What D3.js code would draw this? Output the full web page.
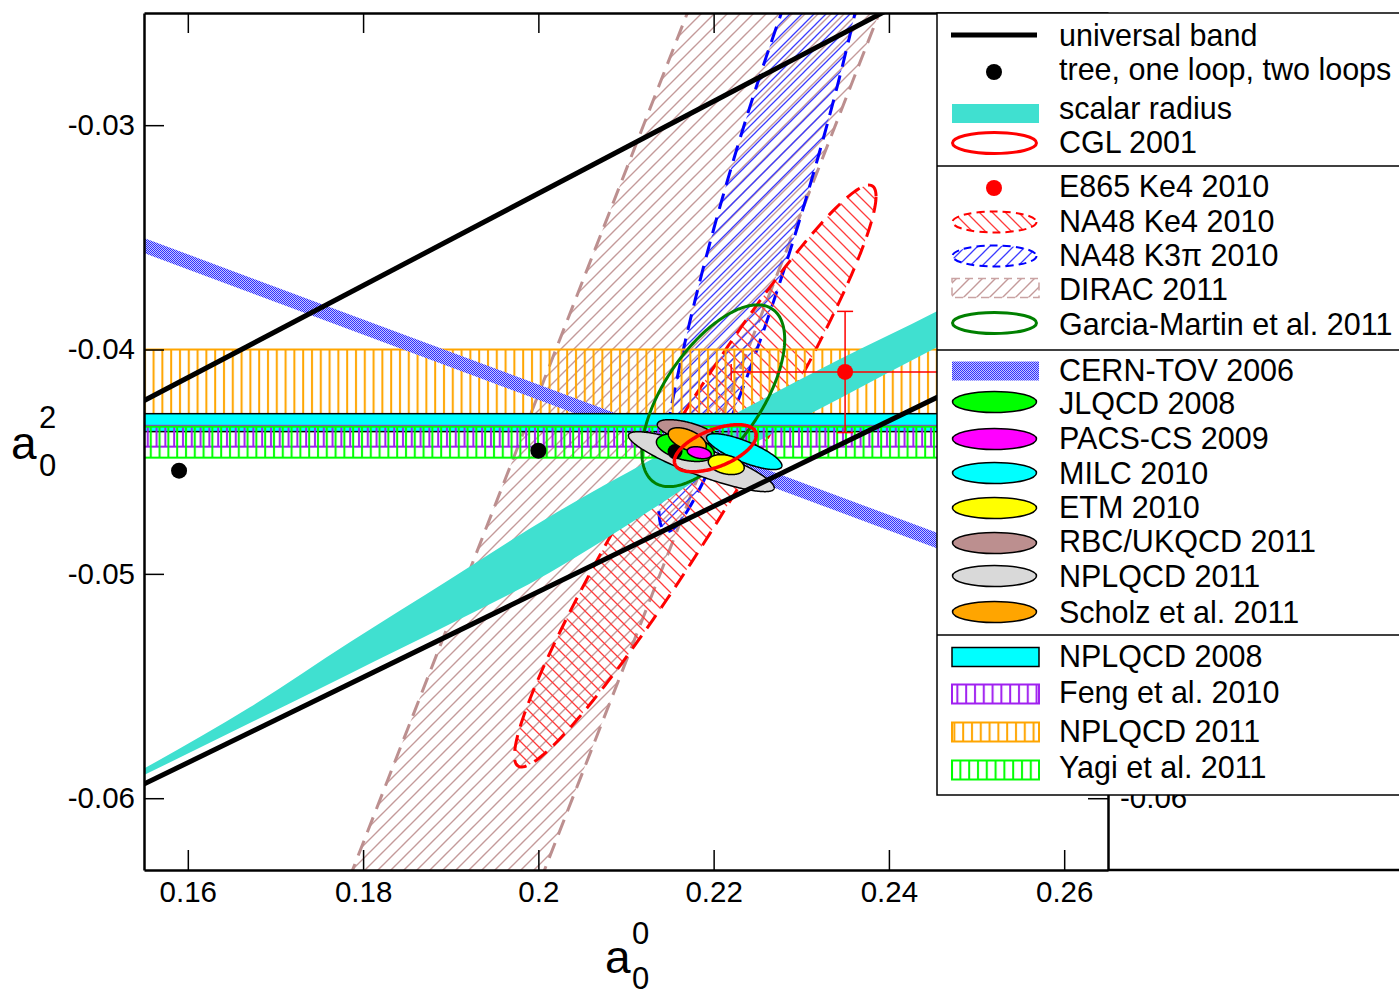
<!DOCTYPE html>
<html><head><meta charset="utf-8">
<script src="https://cdn.jsdelivr.net/npm/d3@7"></script>
<style>body{margin:0;background:#fff}text{font-family:"Liberation Sans",Arial,Helvetica,sans-serif;fill:#000}</style>
</head><body><svg id="c" width="1399" height="992" xmlns="http://www.w3.org/2000/svg"></svg>
<script>
// ---------------- data ----------------
const xTicks = [0.16, 0.18, 0.2, 0.22, 0.24, 0.26];
const yTicks = [-0.03, -0.04, -0.05, -0.06];
const xDomain = [0.155, 0.265];
const yDomain = [-0.0632, -0.025];

const universalUpperX = [0.155, 0.2392], universalUpperY = [-0.04228, -0.025];
const universalLowerX = [0.155, 0.2454], universalLowerY = [-0.05937, -0.04215];

const chptA00 = [0.159, 0.200, 0.2156];      // tree, one loop, two loops
const chptA02 = [-0.0454, -0.04451, -0.04455];

const scalarX     = [0.155, 0.16708, 0.17848, 0.18987, 0.20127, 0.21266, 0.22326, 0.23432, 0.24537, 0.265];
const scalarUpper = [-0.05868, -0.05595, -0.05305, -0.05025, -0.04745, -0.04495, -0.04270, -0.04045, -0.03832, -0.0340];
const scalarLower = [-0.05897, -0.05665, -0.05445, -0.05225, -0.04995, -0.04720, -0.04450, -0.04219, -0.03992, -0.0360];

const cernX = [0.155, 0.265];
const cernUpper = [-0.03503, -0.05100];
const cernLower = [-0.03570, -0.05170];

const diracRange = [0.2420, 0.2639];   // a00 - a02

const e865 = [0.2350, -0.0410], e865Err = [0.013, 0.0027];

const bandNames = ["NPLQCD 2011", "NPLQCD 2008", "Feng et al. 2010", "Yagi et al. 2011"];
const bandLow  = [-0.0430, -0.04366, -0.04433, -0.04482];
const bandHigh = [-0.0400, -0.04286, -0.04340, -0.04344];

// ellipses: centre (a00,a02), half-extents, correlation
const expEllName = ["NA48 K3π 2010", "NA48 Ke4 2010", "Garcia-Martin et al. 2011"];
const expEllA00 = [0.22634, 0.2179, 0.21996];
const expEllA02 = [-0.0325, -0.04564, -0.04206];
const expEllSx  = [0.01260, 0.02063, 0.00815];
const expEllSy  = [0.01562, 0.01297, 0.00405];
const expEllRho = [0.925, 0.961, 0.62];

const latName = ["NPLQCD 2011", "RBC/UKQCD 2011", "JLQCD 2008", "Scholz et al. 2011", "MILC 2010", "PACS-CS 2009", "ETM 2010"];
const latA00 = [0.21859, 0.21699, 0.21677, 0.21699, 0.22349, 0.21836, 0.22144];
const latA02 = [-0.04500, -0.04366, -0.04437, -0.04402, -0.04455, -0.04460, -0.04513];
const latSx  = [0.00832, 0.00342, 0.00330, 0.00217, 0.00430, 0.00137, 0.00205];
const latSy  = [0.001335, 0.000534, 0.00062, 0.000534, 0.00080, 0.000267, 0.000445];
const latRho = [-0.87, -0.6, -0.4, -0.5, -0.78, -0.3, -0.3];
const latColor = ["#d9d9d9", "#bc8f8f", "#00ff00", "#ffa500", "#00ffff", "#ff00ff", "#ffff00"];

const cgl = {a00: 0.22019, a02: -0.04440, sx: 0.00467, sy: 0.00105, rho: 0.55};

const legendLabels = ["universal band", "tree, one loop, two loops", "scalar radius", "CGL 2001",
  "E865 Ke4 2010", "NA48 Ke4 2010", "NA48 K3π 2010", "DIRAC 2011", "Garcia-Martin et al. 2011",
  "CERN-TOV 2006", "JLQCD 2008", "PACS-CS 2009", "MILC 2010", "ETM 2010", "RBC/UKQCD 2011", "NPLQCD 2011", "Scholz et al. 2011",
  "NPLQCD 2008", "Feng et al. 2010", "NPLQCD 2011", "Yagi et al. 2011"];

// ---------------- drawing ----------------
const svg = d3.select("#c");
const L = 144, R = 1108, T = 13, B = 870;
const x = d3.scaleLinear().domain(xDomain).range([L, R]);
const y = d3.scaleLinear().domain(yDomain).range([B, T]);

const defs = svg.append("defs");
function hatch(id, color, size, dir, w) {
  const p = defs.append("pattern").attr("id", id).attr("patternUnits", "userSpaceOnUse")
    .attr("width", size).attr("height", size);
  const s = size;
  const d = dir > 0 ? `M-1,1 L1,-1 M0,${s} L${s},0 M${s-1},${s+1} L${s+1},${s-1}`
                    : `M-1,${s-1} L1,${s+1} M0,0 L${s},${s} M${s-1},-1 L${s+1},1`;
  p.append("path").attr("d", d).attr("stroke", color).attr("stroke-width", w).attr("fill", "none");
}
hatch("hBrown", "#c49a9a", 13, 1, 1.4);
hatch("hBlue", "#3b3bff", 12, 1, 1.3);
hatch("hRed", "#ff3b3b", 13, -1, 1.3);
function vhatch(id, color, w, off) {
  const p = defs.append("pattern").attr("id", id).attr("patternUnits", "userSpaceOnUse")
    .attr("width", 8.8).attr("height", 10).attr("x", off);
  p.append("line").attr("x1", 4).attr("x2", 4).attr("y1", 0).attr("y2", 10)
    .attr("stroke", color).attr("stroke-width", w);
}
vhatch("vOrange", "#ffa500", 2, 0);
vhatch("vPurple", "#a020f0", 2, 3);
vhatch("vGreen", "#00ff00", 2, 6);
const ck = defs.append("pattern").attr("id", "checker").attr("patternUnits", "userSpaceOnUse").attr("width", 2).attr("height", 2);
ck.append("rect").attr("width", 2).attr("height", 2).attr("fill", "#c4c4ff");
ck.append("rect").attr("width", 1).attr("height", 1).attr("fill", "#3030ff");
ck.append("rect").attr("x", 1).attr("y", 1).attr("width", 1).attr("height", 1).attr("fill", "#3030ff");

defs.append("clipPath").attr("id", "plotClip").append("rect")
  .attr("x", L).attr("y", T).attr("width", R - L).attr("height", B - T);

const line = d3.line().x(d => x(d[0])).y(d => y(d[1]));
function ellipsePts(cx, cy, sx, sy, rho) {
  const pts = [], q = Math.sqrt(1 - rho * rho);
  for (let i = 0; i < 240; i++) {
    const t = i / 240 * 2 * Math.PI;
    pts.push([cx + sx * Math.cos(t), cy + sy * (rho * Math.cos(t) + q * Math.sin(t))]);
  }
  return pts;
}
const closed = d3.line().x(d => x(d[0])).y(d => y(d[1])).curve(d3.curveLinearClosed);

const g = svg.append("g").attr("clip-path", "url(#plotClip)");

// DIRAC band
{
  const xs = [0.14, 0.30];
  const poly = [[xs[0], xs[0] - diracRange[0]], [xs[1], xs[1] - diracRange[0]], [xs[1], xs[1] - diracRange[1]], [xs[0], xs[0] - diracRange[1]]];
  g.append("path").attr("d", closed(poly)).attr("fill", "url(#hBrown)");
  diracRange.forEach(c => g.append("path").attr("d", line(xs.map(v => [v, v - c])))
    .attr("stroke", "#bc8f8f").attr("stroke-width", 3).attr("stroke-dasharray", "16,9").attr("fill", "none"));
}
// NA48 ellipses
const expStyle = [{fill: "url(#hBlue)", stroke: "#0000ff", dash: "16,9"}, {fill: "url(#hRed)", stroke: "#ff0000", dash: "16,9"}];
[0, 1].forEach(i => {
  g.append("path").attr("d", closed(ellipsePts(expEllA00[i], expEllA02[i], expEllSx[i], expEllSy[i], expEllRho[i])))
    .attr("fill", expStyle[i].fill).attr("stroke", expStyle[i].stroke).attr("stroke-width", 3)
    .attr("stroke-dasharray", expStyle[i].dash);
});
// NPLQCD 2011 band
function band(i, fill, stroke, sw) {
  g.append("rect").attr("x", x(xDomain[0]) - 5).attr("width", R - L + 10)
    .attr("y", y(bandHigh[i])).attr("height", y(bandLow[i]) - y(bandHigh[i]))
    .attr("fill", fill).attr("stroke", stroke).attr("stroke-width", sw);
}
band(0, "url(#vOrange)", "#ffa500", 2);
// scalar radius
{
  const area = d3.area().x((d, i) => x(scalarX[i])).y0((d, i) => y(scalarLower[i])).y1((d, i) => y(scalarUpper[i])).curve(d3.curveMonotoneX);
  g.append("path").attr("d", area(scalarX)).attr("fill", "#40e0d0");
}
// CERN-TOV
{
  const area = d3.area().x((d, i) => x(cernX[i])).y0((d, i) => y(cernLower[i])).y1((d, i) => y(cernUpper[i]));
  g.append("path").attr("d", area(cernX)).attr("fill", "url(#checker)");
}
band(1, "#00ffff", "#000", 1.5);
band(2, "url(#vPurple)", "#a020f0", 2);
band(3, "url(#vGreen)", "#00ff00", 2);
// Garcia-Martin
g.append("path").attr("d", closed(ellipsePts(expEllA00[2], expEllA02[2], expEllSx[2], expEllSy[2], expEllRho[2])))
  .attr("fill", "none").attr("stroke", "#008000").attr("stroke-width", 3);
// E865
{
  const ge = g.append("g").attr("stroke", "#ff0000").attr("stroke-width", 1.5);
  ge.append("line").attr("x1", x(e865[0] - e865Err[0])).attr("x2", x(e865[0] + e865Err[0])).attr("y1", y(e865[1])).attr("y2", y(e865[1]));
  ge.append("line").attr("y1", y(e865[1] - e865Err[1])).attr("y2", y(e865[1] + e865Err[1])).attr("x1", x(e865[0])).attr("x2", x(e865[0]));
  [-1, 1].forEach(s => {
    ge.append("line").attr("x1", x(e865[0]) - 8).attr("x2", x(e865[0]) + 8).attr("y1", y(e865[1] + s * e865Err[1])).attr("y2", y(e865[1] + s * e865Err[1]));
    ge.append("line").attr("y1", y(e865[1]) - 8).attr("y2", y(e865[1]) + 8).attr("x1", x(e865[0] + s * e865Err[0])).attr("x2", x(e865[0] + s * e865Err[0]));
  });
  g.append("circle").attr("cx", x(e865[0])).attr("cy", y(e865[1])).attr("r", 8).attr("fill", "#ff0000");
}
// lattice ellipses (two-loop dot sits among them)
latName.forEach((n, i) => {
  g.append("path").attr("d", closed(ellipsePts(latA00[i], latA02[i], latSx[i], latSy[i], latRho[i])))
    .attr("fill", latColor[i]).attr("stroke", "#000").attr("stroke-width", 1.5);
  if (i === 2) g.append("circle").attr("cx", x(chptA00[2])).attr("cy", y(chptA02[2])).attr("r", 7.5).attr("fill", "#000");
});
// universal band lines
[[universalUpperX, universalUpperY], [universalLowerX, universalLowerY]].forEach(([xs, ys]) => {
  const sl = (ys[1] - ys[0]) / (xs[1] - xs[0]);
  const pts = [[0.15, ys[0] + sl * (0.15 - xs[0])], [0.27, ys[0] + sl * (0.27 - xs[0])]];
  g.append("path").attr("d", line(pts)).attr("stroke", "#000").attr("stroke-width", 5).attr("fill", "none");
});
// CGL
g.append("path").attr("d", closed(ellipsePts(cgl.a00, cgl.a02, cgl.sx, cgl.sy, cgl.rho)))
  .attr("fill", "none").attr("stroke", "#ff0000").attr("stroke-width", 3.5);
// tree / one loop
[0, 1].forEach(i => g.append("circle").attr("cx", x(chptA00[i])).attr("cy", y(chptA02[i])).attr("r", 8).attr("fill", "#000"));

// ---------------- axes ----------------
const fmt = d => String(+d.toFixed(3));
const fs = 29.5;
const ax = [
  svg.append("g").attr("transform", `translate(0,${B})`).call(d3.axisBottom(x).tickValues(xTicks).tickFormat(fmt).tickSizeInner(-20).tickSizeOuter(0).tickPadding(11)),
  svg.append("g").attr("transform", `translate(0,${T})`).call(d3.axisTop(x).tickValues(xTicks).tickFormat("").tickSizeInner(-20).tickSizeOuter(0)),
  svg.append("g").attr("transform", `translate(${L},0)`).call(d3.axisLeft(y).tickValues(yTicks).tickFormat(fmt).tickSizeInner(-20).tickSizeOuter(0).tickPadding(9)),
  svg.append("g").attr("transform", `translate(${R},0)`).call(d3.axisRight(y).tickValues(yTicks).tickFormat(fmt).tickSizeInner(-20).tickSizeOuter(0).tickPadding(12))
];
ax.forEach(a => {
  a.select(".domain").attr("stroke-width", 2.5);
  a.selectAll(".tick line").attr("stroke-width", 1.5);
  a.selectAll("text").attr("font-size", fs).attr("font-family", '"Liberation Sans",Arial,sans-serif');
});
svg.append("line").attr("x1", R).attr("x2", 1399).attr("y1", B).attr("y2", B).attr("stroke", "#000").attr("stroke-width", 2.5);

// axis titles
svg.append("text").attr("x", 11).attr("y", 459).attr("font-size", 46).text("a");
svg.append("text").attr("x", 39).attr("y", 428).attr("font-size", 31).text("2");
svg.append("text").attr("x", 39).attr("y", 476).attr("font-size", 31).text("0");
svg.append("text").attr("x", 605).attr("y", 973).attr("font-size", 46).text("a");
svg.append("text").attr("x", 632).attr("y", 944).attr("font-size", 31).text("0");
svg.append("text").attr("x", 632).attr("y", 989).attr("font-size", 31).text("0");

// ---------------- legend ----------------
const lg = svg.append("g");
lg.append("rect").attr("x", 937).attr("y", 13).attr("width", 480).attr("height", 782)
  .attr("fill", "#fff").attr("stroke", "#000").attr("stroke-width", 1.5);
[166, 350, 635].forEach(v => lg.append("line").attr("x1", 937).attr("x2", 1399).attr("y1", v).attr("y2", v).attr("stroke", "#000").attr("stroke-width", 1.5));
const base = [46, 80, 119, 153, 197, 232, 266, 300, 335, 381, 414, 449, 484, 518, 552, 587, 623, 667, 703, 742, 778];
const symY = [35, 72, 113, 143, 188, 222, 256, 288, 323, 371, 402, 439, 473, 508, 543, 576, 612, 657, 694, 732, 770];
legendLabels.forEach((t, i) => lg.append("text").attr("x", 1059).attr("y", base[i]).attr("font-size", 30.5).text(t));
const ex = 994.5, erx = 42, ery = 10.5;
function legEll(cy, fill, stroke, sw, dash) {
  const e = lg.append("ellipse").attr("cx", ex).attr("cy", cy).attr("rx", erx).attr("ry", ery)
    .attr("fill", fill).attr("stroke", stroke).attr("stroke-width", sw);
  if (dash) e.attr("stroke-dasharray", dash);
}
function legRect(cy, fill, stroke, sw, dash) {
  const r = lg.append("rect").attr("x", 952).attr("y", cy - 9.5).attr("width", 87).attr("height", 19)
    .attr("fill", fill).attr("stroke", stroke).attr("stroke-width", sw);
  if (dash) r.attr("stroke-dasharray", dash);
}
lg.append("line").attr("x1", 951).attr("x2", 1037).attr("y1", symY[0]).attr("y2", symY[0]).attr("stroke", "#000").attr("stroke-width", 5);
lg.append("circle").attr("cx", 994).attr("cy", symY[1]).attr("r", 8).attr("fill", "#000");
lg.append("rect").attr("x", 952).attr("y", 104).attr("width", 87).attr("height", 19).attr("fill", "#40e0d0");
legEll(symY[3], "none", "#ff0000", 3);
lg.append("circle").attr("cx", 994).attr("cy", symY[4]).attr("r", 8).attr("fill", "#ff0000");
legEll(symY[5], "url(#hRed)", "#ff0000", 2, "8,5");
legEll(symY[6], "url(#hBlue)", "#0000ff", 2, "8,5");
legRect(symY[7], "url(#hBrown)", "#c9a3a3", 1.5, "8,5");
legEll(symY[8], "none", "#008000", 3);
legRect(symY[9], "url(#checker)", "none", 0);
const latLegOrder = ["JLQCD 2008", "PACS-CS 2009", "MILC 2010", "ETM 2010", "RBC/UKQCD 2011", "NPLQCD 2011", "Scholz et al. 2011"];
latLegOrder.forEach((n, k) => legEll(symY[10 + k], latColor[latName.indexOf(n)], "#000", 1.5));
legRect(symY[17], "#00ffff", "#000", 1.5);
legRect(symY[18], "url(#vPurple)", "#a020f0", 2);
legRect(symY[19], "url(#vOrange)", "#ffa500", 2);
legRect(symY[20], "url(#vGreen)", "#00ff00", 2);
</script></body></html>
